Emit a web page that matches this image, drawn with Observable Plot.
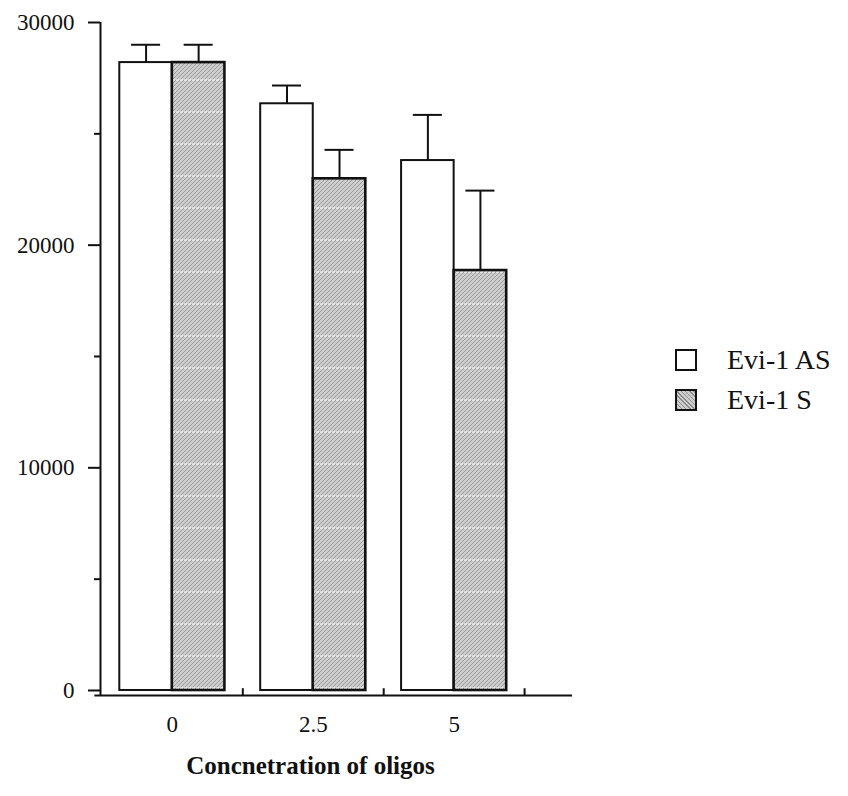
<!DOCTYPE html>
<html>
<head>
<meta charset="utf-8">
<script src="https://cdn.jsdelivr.net/npm/d3@7"></script>
<script src="https://cdn.jsdelivr.net/npm/@observablehq/plot@0.6"></script>
<style>
  html, body { margin: 0; padding: 0; background: white; }
  #wrap { position: relative; width: 848px; height: 796px; }
  #legend { position: absolute; left: 675px; top: 340px; font-family: "Liberation Serif", "Times New Roman", serif; font-size: 28px; color: #111; }
  #legend span { font-family: "Liberation Serif", "Times New Roman", serif; }
  .row { display: flex; align-items: center; height: 40px; }
  .sw { width: 18px; height: 18px; border: 2px solid #111; margin-right: 30px; box-sizing: content-box; }
  .sw.s { background: repeating-linear-gradient(45deg, #8a8a8a 0 1px, #cfcfcf 1px 3px); }
</style>
</head>
<body>
<div id="wrap"><div id="legend"></div></div>
<script>
// ---- data ----
const concentrations = ["0", "2.5", "5"];
const seriesNames = ["Evi-1 AS", "Evi-1 S"];
const asMeans = [28200, 26350, 23800];
const asErrors = [800, 820, 2050];
const sMeans = [28200, 22980, 18860];
const sErrors = [800, 1300, 3590];
const yTicks = [0, 10000, 20000, 30000];
const yMinorTicks = [5000, 15000, 25000];
const xTitle = "Concnetration of oligos";

const means = [asMeans, sMeans];
const errors = [asErrors, sErrors];
const rows = concentrations.flatMap((c, i) =>
  seriesNames.map((s, j) => ({ c, i, s, j, mean: means[j][i], err: errors[j][i] }))
);

const hw = 0.373;   // bar width in group units
const cap = 0.103;  // half cap width
const xDomain = [-0.51, 2.84];
const yDomain = [-225, 30000];
const fills = ["white", "url(#sHatch)"];
const center = d => d.i + (d.j - 0.5) * hw;

const chart = Plot.plot({
  width: 848,
  height: 796,
  marginLeft: 100,
  marginRight: 276,
  marginTop: 22,
  marginBottom: 101,
  x: { type: "linear", domain: xDomain },
  y: { domain: yDomain },
  style: { fontFamily: "'Liberation Serif', serif", fontSize: "23px", color: "#111", background: "white" },
  marks: [
    Plot.rectY(rows, {
      x1: d => d.i + (d.j - 1) * hw,
      x2: d => d.i + d.j * hw,
      y1: 0,
      y2: "mean",
      fill: d => fills[d.j],
      stroke: "#111",
      strokeWidth: d => d.j === 1 ? 2.6 : 2
    }),
    Plot.ruleX(rows, { x: center, y1: "mean", y2: d => d.mean + d.err, stroke: "#111", strokeWidth: 2 }),
    Plot.ruleY(rows, { y: d => d.mean + d.err, x1: d => center(d) - cap, x2: d => center(d) + cap, stroke: "#111", strokeWidth: 2 }),
    // axis lines
    Plot.ruleX([xDomain[0]], { y1: yDomain[0], y2: yTicks[yTicks.length - 1], stroke: "#111", strokeWidth: 2 }),
    Plot.ruleY([yDomain[0]], { x1: xDomain[0] - 0.04, x2: xDomain[1], stroke: "#111", strokeWidth: 2 }),
    // group separator ticks on x-axis
    Plot.ruleX([0.5, 1.5, 2.5], { y1: yDomain[0], y2: 80, stroke: "#111", strokeWidth: 2 }),
    Plot.axisY(yTicks, { tickSize: 12, tickPadding: 14, tickFormat: d => String(d), fontSize: 23, strokeWidth: 2, label: null }),
    Plot.axisY(yMinorTicks, { tickSize: 6, tickFormat: () => "", strokeWidth: 2, label: null }),
    Plot.axisX([0, 1, 2], { tickSize: 0, tickPadding: 20, tickFormat: i => concentrations[i], fontSize: 23, label: null }),
    Plot.text([xTitle], { frameAnchor: "bottom", dy: 78, dx: -26, fontSize: 25, fontWeight: "bold", fill: "#111" })
  ]
});

chart.insertAdjacentHTML("afterbegin", (() => {
  let p = "";
  for (let k = 0; k <= 36; k += 4) p += `M0,${k} L4,${k - 4} `;
  return `<defs><pattern id="sHatch" patternUnits="userSpaceOnUse" width="4" height="32">
    <rect width="4" height="32" fill="#cfcfcf"/>
    <path d="${p}" stroke="#8a8a8a" stroke-width="0.8"/>
    <line x1="0" y1="16" x2="4" y2="16" stroke="white" stroke-width="1.2" stroke-dasharray="3,1" opacity="0.85"/>
  </pattern></defs>`;
})());

document.getElementById("wrap").prepend(chart);

const legend = document.getElementById("legend");
seriesNames.forEach((s, j) => {
  const row = document.createElement("div");
  row.className = "row";
  const sw = document.createElement("div");
  sw.className = "sw" + (j === 1 ? " s" : "");
  const t = document.createElement("span");
  t.textContent = s;
  row.append(sw, t);
  legend.append(row);
});
</script>
</body>
</html>
